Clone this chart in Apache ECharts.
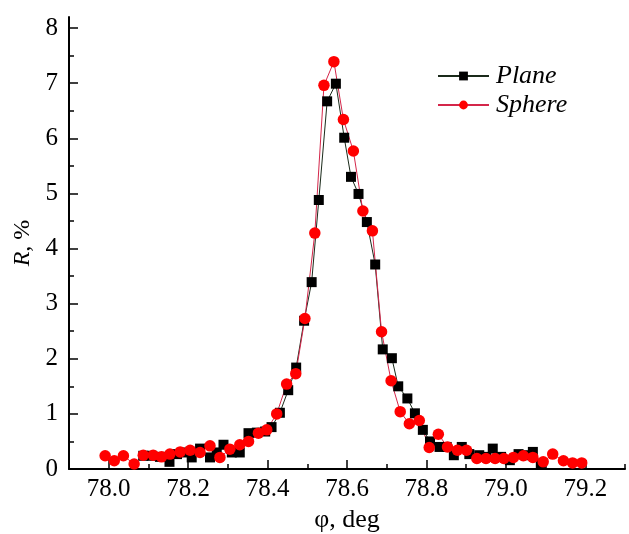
<!DOCTYPE html>
<html>
<head>
<meta charset="utf-8">
<script src="https://cdn.jsdelivr.net/npm/echarts@6/dist/echarts.min.js"></script>
<style>html,body{margin:0;padding:0;background:#fff}#c{width:629px;height:534px}</style>
</head>
<body>
<div id="c"></div>
<script>
var planeX = [78.087,78.108,78.129,78.153,78.172,78.190,78.209,78.230,78.255,78.272,78.289,78.310,78.330,78.352,78.373,78.394,78.410,78.431,78.452,78.472,78.492,78.511,78.529,78.550,78.572,78.593,78.610,78.629,78.650,78.671,78.690,78.713,78.729,78.752,78.771,78.791,78.809,78.833,78.851,78.869,78.889,78.908,78.933,78.950,78.967,78.988,79.010,79.032,79.050,79.068,79.088];
var planeY = [0.24,0.24,0.22,0.13,0.27,0.30,0.21,0.37,0.21,0.30,0.44,0.30,0.30,0.65,0.66,0.68,0.76,1.02,1.43,1.84,2.69,3.39,4.88,6.67,6.99,6.01,5.30,4.99,4.48,3.71,2.17,2.01,1.50,1.28,1.01,0.71,0.50,0.40,0.40,0.25,0.40,0.27,0.25,0.22,0.37,0.22,0.16,0.27,0.25,0.31,0.10];
var sphereX = [77.991,78.014,78.037,78.064,78.087,78.112,78.133,78.154,78.180,78.205,78.230,78.255,78.280,78.305,78.330,78.352,78.377,78.398,78.423,78.448,78.471,78.494,78.519,78.542,78.567,78.591,78.616,78.640,78.664,78.687,78.711,78.734,78.757,78.782,78.807,78.830,78.853,78.878,78.901,78.927,78.950,78.973,78.995,79.019,79.044,79.068,79.094,79.118,79.145,79.168,79.191];
var sphereY = [0.24,0.15,0.24,0.09,0.25,0.25,0.22,0.27,0.31,0.34,0.30,0.42,0.21,0.36,0.44,0.50,0.65,0.71,1.00,1.54,1.73,2.73,4.28,6.96,7.39,6.34,5.77,4.68,4.32,2.49,1.60,1.04,0.82,0.88,0.39,0.63,0.40,0.34,0.34,0.19,0.19,0.19,0.19,0.21,0.24,0.21,0.13,0.27,0.15,0.11,0.11];
var xMajorTicks = [78.0,78.2,78.4,78.6,78.8,79.0,79.2];
var xMinorTicks = [78.1,78.3,78.5,78.7,78.9,79.1,79.3];
var yMajorTicks = [0,1,2,3,4,5,6,7,8];
var yMinorTicks = [0.5,1.5,2.5,3.5,4.5,5.5,6.5,7.5];
var seriesNames = ['Plane','Sphere'];

function pairs(xs, ys){ return xs.map(function(x,i){ return [x, ys[i]]; }); }

var FONT = '"Liberation Serif","Times New Roman",serif';
var chart = echarts.init(document.getElementById('c'), null, {renderer:'canvas'});
var axisLineStyle = {show:true, lineStyle:{color:'#000', width:2}};
chart.setOption({
  animation:false,
  backgroundColor:'#fff',
  grid:{left:69, right:4, top:17, bottom:65, outerBoundsMode:'none', containLabel:false},
  legend:{
    orient:'vertical', left:432, top:58, itemWidth:51, itemHeight:11, itemGap:3,
    textStyle:{fontFamily:FONT, fontSize:26, fontStyle:'italic', color:'#000', padding:[0,0,0,2]},
    data:seriesNames
  },
  xAxis:[{
    type:'value', min:77.9, max:79.3, position:'bottom',
    axisLine:axisLineStyle,
    axisTick:{show:true, inside:true, length:9, customValues:xMajorTicks, lineStyle:{color:'#000', width:1.5}},
    axisLabel:{show:true, customValues:xMajorTicks, margin:8, fontFamily:FONT, fontSize:25, color:'#000',
      formatter:function(v){ return v.toFixed(1); }},
    splitLine:{show:false},
    name:'φ, deg', nameLocation:'middle', nameGap:37,
    nameTextStyle:{fontFamily:FONT, fontSize:26, color:'#000'}
  },{
    type:'value', min:77.9, max:79.3, position:'bottom',
    axisLine:{show:false},
    axisTick:{show:true, inside:true, length:5, customValues:xMinorTicks, lineStyle:{color:'#000', width:1.5}},
    axisLabel:{show:false}, splitLine:{show:false}
  }],
  yAxis:[{
    type:'value', min:0, max:8.2, position:'left',
    axisLine:axisLineStyle,
    axisTick:{show:true, inside:true, length:9, customValues:yMajorTicks, lineStyle:{color:'#000', width:1.5}},
    axisLabel:{show:true, customValues:yMajorTicks, margin:11, fontFamily:FONT, fontSize:25, color:'#000'},
    splitLine:{show:false},
    name:'{i|R}, %', nameLocation:'middle', nameGap:29, nameRotate:90,
    nameTextStyle:{fontFamily:FONT, fontSize:24, color:'#000',
      rich:{i:{fontFamily:FONT, fontSize:24, fontStyle:'italic', color:'#000'}}}
  },{
    type:'value', min:0, max:8.2, position:'left',
    axisLine:{show:false},
    axisTick:{show:true, inside:true, length:5, customValues:yMinorTicks, lineStyle:{color:'#000', width:1.5}},
    axisLabel:{show:false}, splitLine:{show:false}
  }],
  series:[{
    name:seriesNames[0], type:'line', xAxisIndex:0, yAxisIndex:0,
    data:pairs(planeX, planeY),
    symbol:'rect', symbolSize:10,
    lineStyle:{color:'#1a2a1a', width:1},
    itemStyle:{color:'#000'}
  },{
    name:seriesNames[1], type:'line', xAxisIndex:0, yAxisIndex:0,
    data:pairs(sphereX, sphereY),
    symbol:'circle', symbolSize:11.5,
    lineStyle:{color:'#d4264a', width:1},
    itemStyle:{color:'#ff0000'}
  }]
});
</script>
</body>
</html>
